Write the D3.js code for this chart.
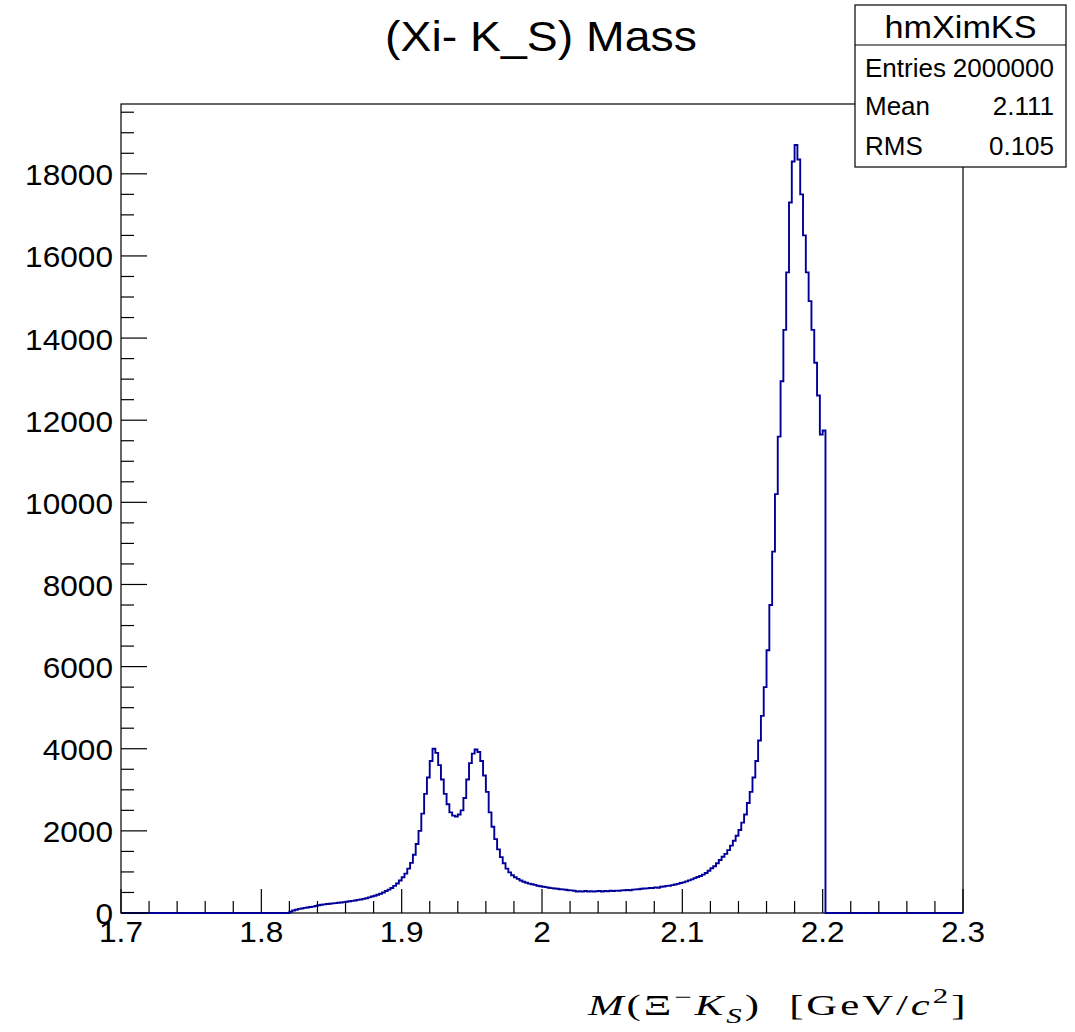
<!DOCTYPE html>
<html><head><meta charset="utf-8">
<script src="https://cdn.jsdelivr.net/npm/d3@7"></script>
<style>html,body{margin:0;padding:0;background:#fff;}</style>
</head><body>
<svg id="c" width="1075" height="1032"></svg>
<script>
// ---- data ----
const binStart = 1.820;
const binWidth = 0.002;
const counts = [
  30, 60, 80, 100, 110, 125, 135, 145, 155, 170,
  190, 200, 210, 220, 225, 235, 240, 250, 255, 265,
  275, 285, 295, 305, 320, 330, 345, 360, 380, 400,
  420, 445, 470, 500, 535, 570, 610, 660, 720, 790,
  870, 960, 1080, 1220, 1420, 1680, 2000, 2420, 2900, 3300,
  3700, 4000, 3900, 3600, 3250, 2900, 2650, 2450, 2370, 2350,
  2400, 2500, 2800, 3250, 3650, 3880, 3980, 3920, 3700, 3350,
  2950, 2450, 2100, 1800, 1550, 1360, 1210, 1080, 990, 920,
  870, 830, 790, 760, 735, 715, 700, 685, 665, 650,
  640, 630, 615, 605, 595, 590, 580, 575, 565, 555,
  550, 540, 525, 530, 520, 535, 525, 530, 520, 530,
  535, 525, 535, 530, 540, 535, 545, 540, 550, 555,
  560, 555, 570, 575, 580, 590, 595, 600, 610, 610,
  625, 615, 640, 645, 660, 665, 680, 695, 710, 730,
  745, 770, 795, 820, 850, 875, 900, 935, 975, 1030,
  1090, 1140, 1210, 1290, 1370, 1440, 1530, 1640, 1760, 1880,
  2020, 2200, 2400, 2680, 2950, 3300, 3700, 4200, 4800, 5500,
  6400, 7500, 8800, 10200, 11600, 12950, 14200, 15600, 17300, 18300,
  18700, 18350, 17500, 16500, 15600, 14900, 14200, 13400, 12600, 11650,
  11750
];
const xDomain = [1.7, 2.3];
const yDomain = [0, 19700];
const xTickValues = [1.7, 1.8, 1.9, 2.0, 2.1, 2.2, 2.3];
const xTickLabels = ["1.7", "1.8", "1.9", "2", "2.1", "2.2", "2.3"];
const yTickValues = [0, 2000, 4000, 6000, 8000, 10000, 12000, 14000, 16000, 18000];
const yTickLabels = ["0", "2000", "4000", "6000", "8000", "10000", "12000", "14000", "16000", "18000"];
const titleText = "(Xi- K_S) Mass";
const statsName = "hmXimKS";
const statsLabels = ["Entries", "Mean", "RMS"];
const statsValues = ["2000000", "2.111", "0.105"];

// ---- layout ----
const L = 121, R = 963, T = 104, B = 913;
const svg = d3.select("#c");
const x = d3.scaleLinear().domain(xDomain).range([L, R]);
const y = d3.scaleLinear().domain(yDomain).range([B, T]);
const SANS = "'Liberation Sans', Arial, Helvetica, sans-serif";

function stext(g, px, py, str, size, anchor, sx) {
  return g.append("text")
    .attr("transform", `translate(${px},${py}) scale(${sx},1)`)
    .attr("text-anchor", anchor)
    .style("font-family", SANS)
    .style("font-size", size + "px")
    .attr("fill", "#000")
    .text(str);
}
function fitWidth(sel, px, py, target) {
  const w = sel.node().getBBox().width;
  sel.attr("transform", `translate(${px},${py}) scale(${target / w},1)`);
}

// frame
svg.append("rect").attr("x", L).attr("y", T).attr("width", R - L).attr("height", B - T)
  .attr("fill", "none").attr("stroke", "#000").attr("stroke-width", 1.2);

// histogram
const pts = [{x: xDomain[0], v: 0}];
counts.forEach((c, i) => pts.push({x: binStart + i * binWidth, v: c}));
pts.push({x: binStart + counts.length * binWidth, v: 0});
pts.push({x: xDomain[1], v: 0});
const line = d3.line().x(d => x(d.x)).y(d => y(d.v)).curve(d3.curveStepAfter);
svg.append("path").attr("d", line(pts)).attr("fill", "none")
  .attr("stroke", "#000099").attr("stroke-width", 1.9);

// x ticks
const gx = svg.append("g");
d3.range(0, 31).map(i => xDomain[0] + i * 0.02).forEach(v => {
  const major = xTickValues.some(t => Math.abs(t - v) < 1e-6);
  gx.append("line").attr("x1", x(v)).attr("x2", x(v)).attr("y1", B).attr("y2", B - (major ? 24 : 12))
    .attr("stroke", "#000").attr("stroke-width", 1.2);
});
xTickValues.forEach((v, i) => stext(gx, x(v), 942, xTickLabels[i], 29, "middle", 1.09));

// y ticks
const gy = svg.append("g");
d3.range(0, 19701, 500).forEach(v => {
  const major = v % 2000 === 0;
  gy.append("line").attr("x1", L).attr("x2", L + (major ? 26 : 13)).attr("y1", y(v)).attr("y2", y(v))
    .attr("stroke", "#000").attr("stroke-width", 1.2);
});
yTickValues.forEach((v, i) => stext(gy, 113, y(v) + (v === 0 ? 10.5 : 11.5), yTickLabels[i], 29, "end", 1.09));

// title
const tt = stext(svg, 0, 0, titleText, 43, "middle", 1);
fitWidth(tt, 541, 51, 312);

// stats box
const sb = svg.append("g");
sb.append("rect").attr("x", 855).attr("y", 5).attr("width", 211).attr("height", 162)
  .attr("fill", "#fff").attr("stroke", "#000").attr("stroke-width", 1.2);
sb.append("line").attr("x1", 855).attr("x2", 1066).attr("y1", 45).attr("y2", 45)
  .attr("stroke", "#000").attr("stroke-width", 1.2);
const st = stext(sb, 0, 0, statsName, 31, "middle", 1);
fitWidth(st, 960.5, 38, 152);
const rowY = [77, 115, 155];
statsLabels.forEach((s, i) => stext(sb, 865, rowY[i], s, 25, "start", 1.04));
statsValues.forEach((s, i) => stext(sb, 1054, rowY[i], s, 25, "end", 1.04));

// x axis title
const xt = svg.append("text").attr("text-anchor", "start")
  .style("font-family", "'Liberation Serif', 'Times New Roman', serif")
  .style("font-size", "29px").style("letter-spacing", "2px").attr("fill", "#000");
xt.append("tspan").style("font-style", "italic").text("M");
xt.append("tspan").text("(Ξ");
xt.append("tspan").attr("dy", -11).style("font-size", "21px").text("−");
xt.append("tspan").attr("dy", 11).style("font-style", "italic").text("K");
xt.append("tspan").attr("dy", 8).style("font-size", "21px").style("font-style", "italic").text("S");
xt.append("tspan").attr("dy", -8).text(")\u00a0\u00a0[GeV/");
xt.append("tspan").style("font-style", "italic").text("c");
xt.append("tspan").attr("dy", -12).style("font-size", "21px").text("2");
xt.append("tspan").attr("dy", 12).text("]");
fitWidth(xt, 588, 1015, 382);
</script>
</body></html>
